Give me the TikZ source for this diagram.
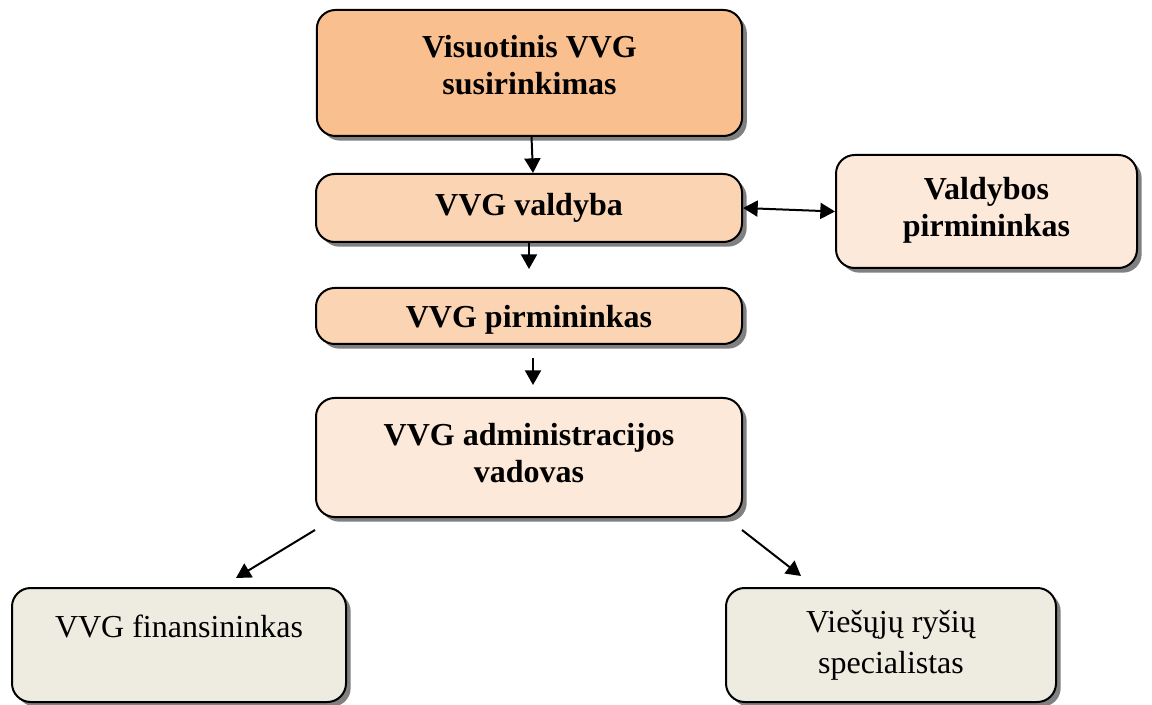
\documentclass[tikz,border=0pt]{standalone}
\usepackage{fontspec}
\setmainfont{Liberation Serif}
\usetikzlibrary{arrows.meta,shadows}
\definecolor{cOrange}{HTML}{FABF8F}
\definecolor{cPeach}{HTML}{FBD4B4}
\definecolor{cLight}{HTML}{FDE9D9}
\definecolor{cTan}{HTML}{EEECE1}
\begin{document}
\begin{tikzpicture}[x=0.75pt,y=-0.75pt,
  box/.style={draw=black,line width=1.5pt,rounded corners=14pt,inner sep=0pt,
    drop shadow={shadow xshift=3.5pt,shadow yshift=-3.5pt,fill=black!50,opacity=1}},
  btxt/.style={font=\fontsize{24}{28}\selectfont\bfseries,align=center,inner sep=0pt},
  rtxt/.style={font=\fontsize{24}{31}\selectfont,align=center,inner sep=0pt},
  conn/.style={line width=1.5pt,-{Triangle[length=11pt,width=12pt]}},
  conn2/.style={line width=1.5pt,{Triangle[length=11pt,width=12pt]}-{Triangle[length=11pt,width=12pt]}}]
\useasboundingbox (0,0) rectangle (1152,705);
% boxes
\node[box,fill=cOrange,minimum width=319pt,minimum height=94.5pt] (vis) at (529.5,73) {};
\node[box,fill=cPeach,minimum width=319.5pt,minimum height=51pt] (val) at (529,208) {};
\node[box,fill=cLight,minimum width=225.75pt,minimum height=84.75pt] (vp) at (986.5,211.5) {};
\node[box,fill=cPeach,minimum width=319.5pt,minimum height=42pt] (pir) at (529,316) {};
\node[box,fill=cLight,minimum width=319.5pt,minimum height=89.25pt] (adm) at (529,457.5) {};
\node[box,fill=cTan,minimum width=250.5pt,minimum height=85.5pt] (fin) at (179,645) {};
\node[box,fill=cTan,minimum width=247.5pt,minimum height=85.5pt] (spec) at (891,645) {};
% texts
\node[btxt] (tvis) at (529.5,65) {Visuotinis VVG\\susirinkimas};
\node[btxt] (tval) at (529,208) {VVG valdyba};
\node[btxt] (tvp) at (986.5,210) {Valdybos\\pirmininkas};
\node[btxt] (tpir) at (529,320) {VVG pirmininkas};
\node[btxt] (tadm) at (529,453) {VVG administracijos\\vadovas};
\node[rtxt] (tfin) at (179,626) {VVG finansininkas};
\node[rtxt] (tspec) at (891,645) {Viešųjų ryšių\\specialistas};
% arrow ends
\coordinate (finTip) at (236,578);
\coordinate (specTip) at (801,576);
\coordinate (admSW) at (315,530);
\coordinate (admSE) at (742,530);
% connectors
\draw[conn] ([xshift=1.5pt]vis.south) -- ([xshift=3pt]val.north);
\draw[conn,shorten >=13.5pt] (val.south) -- (pir.north);
\draw[conn,shorten <=10pt,shorten >=9pt] ([xshift=3pt]pir.south) -- ([xshift=3pt]adm.north);
\draw[conn2] (val.east) -- (vp.west);
\draw[conn] (admSW) -- (finTip);
\draw[conn] (admSE) -- (specTip);
\end{tikzpicture}
\end{document}
